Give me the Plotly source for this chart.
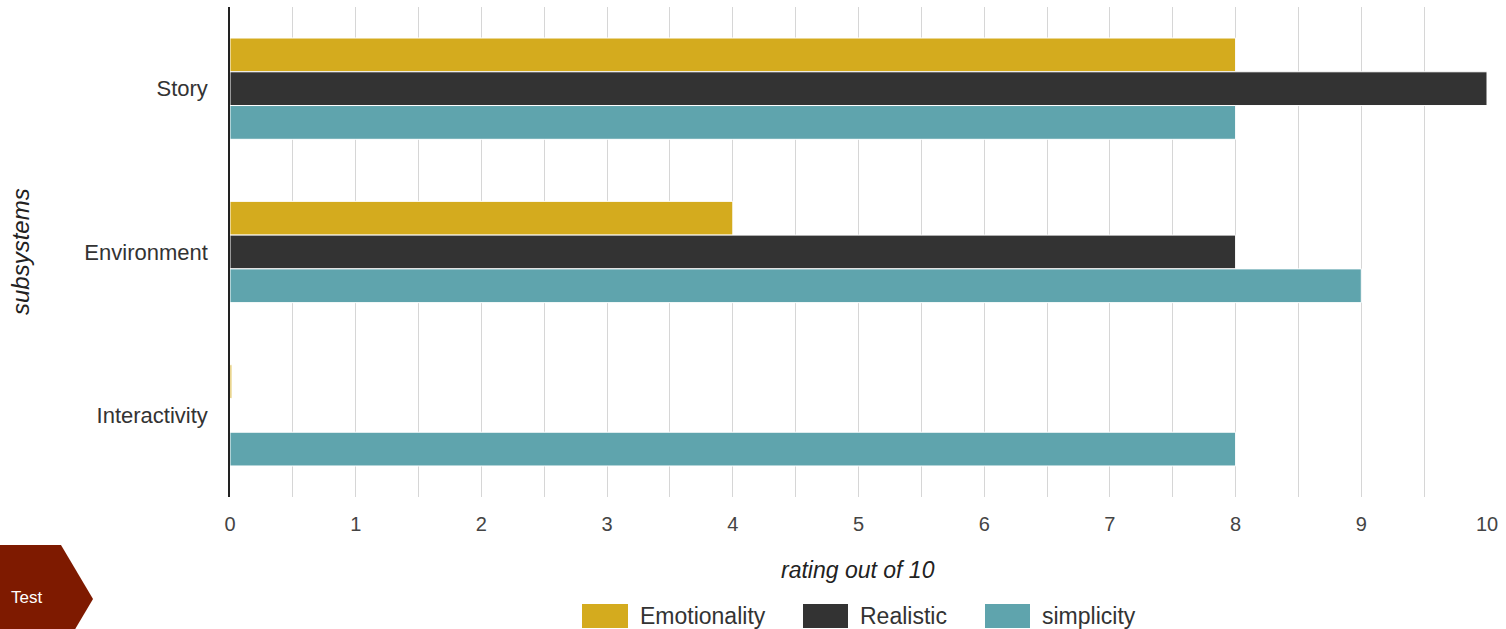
import plotly.graph_objects as go

categories = ["Story", "Environment", "Interactivity"]
series_names = ["Emotionality", "Realistic", "simplicity"]
emotionality = [8, 4, 0.015]
realistic = [10, 8, 0]
simplicity = [8, 9, 8]
colors = ["#D4AB1E", "#333333", "#5FA4AD"]
x_ticks = list(range(0, 11))

W, H = 1506, 629
L, R, T, B = 230, 19, 7, 132
PW, PH = W - L - R, H - T - B

def px(x):
    return (x - L) / PW

def py(y):
    return (H - B - y) / PH

fig = go.Figure()
for name, vals, col in zip(series_names, [emotionality, realistic, simplicity], colors):
    fig.add_trace(go.Bar(
        y=categories, x=vals, name=name, orientation="h",
        marker=dict(color=col, line=dict(color="white", width=1)),
        showlegend=False,
    ))

font_family = "Liberation Sans, Arial, sans-serif"

fig.update_layout(
    width=W, height=H,
    margin=dict(l=L, r=R, t=T, b=B, autoexpand=False),
    paper_bgcolor="white", plot_bgcolor="white",
    barmode="group", bargap=0.38, bargroupgap=0,
    font=dict(family=font_family, size=20, color="#333333"),
    xaxis=dict(
        range=[0, 10], tickvals=x_ticks, ticktext=[str(v) for v in x_ticks],
        showgrid=True, gridcolor="#D6D6D6", gridwidth=1,
        minor=dict(dtick=0.5, showgrid=True, gridcolor="#D6D6D6", gridwidth=1),
        zeroline=False, showline=False, ticks="",
        ticklabelstandoff=13,
        tickfont=dict(size=20, color="#444444"),
        automargin=False, fixedrange=True,
    ),
    yaxis=dict(
        autorange="reversed", showgrid=False, zeroline=False,
        showline=True, linecolor="#222222", linewidth=1.5, ticks="",
        ticklabelstandoff=16,
        tickfont=dict(size=22, color="#333333"),
        automargin=False, fixedrange=True,
    ),
)

# axis titles
fig.add_annotation(xref="paper", yref="paper", x=px(858), y=py(570),
                   text="<i>rating out of 10</i>", showarrow=False,
                   xanchor="center", yanchor="middle",
                   font=dict(size=23, color="#222222"))
fig.add_annotation(xref="paper", yref="paper", x=px(20), y=py(252),
                   text="<i>subsystems</i>", showarrow=False, textangle=-90,
                   xanchor="center", yanchor="middle",
                   font=dict(size=24, color="#222222"))

# custom legend
legend_items = [(582, 628, 638), (803, 848, 858), (985, 1030, 1040)]
for (x0, x1, tx), name, col in zip(legend_items, series_names, colors):
    fig.add_shape(type="rect", xref="paper", yref="paper",
                  x0=px(x0), x1=px(x1), y0=py(628), y1=py(604),
                  fillcolor=col, line=dict(width=0))
    fig.add_annotation(xref="paper", yref="paper", x=px(tx), y=py(616),
                       text=name, showarrow=False, xanchor="left", yanchor="middle",
                       font=dict(size=23, color="#333333"))

# badge
path = "M {} {} L {} {} L {} {} L {} {} L {} {} Z".format(
    px(0), py(545), px(61), py(545), px(93), py(599), px(61), py(653), px(0), py(653))
fig.add_shape(type="path", xref="paper", yref="paper", path=path,
              fillcolor="#7E1A00", line=dict(width=0))
fig.add_annotation(xref="paper", yref="paper", x=px(9), y=py(597),
                   text="Test", showarrow=False, xanchor="left", yanchor="middle",
                   font=dict(size=17, color="white"))

fig.write_html("out.html")
